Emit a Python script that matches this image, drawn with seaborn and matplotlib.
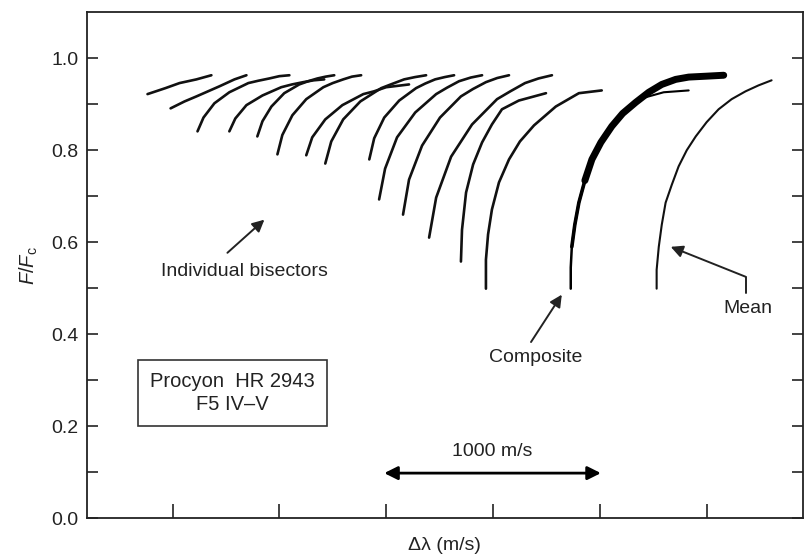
import matplotlib
matplotlib.use("Agg")
import matplotlib.pyplot as plt
import seaborn as sns

# individual bisectors: velocity offset (m/s) vs relative flux F/Fc
bisector_x = [
    [-117, -33, 33, 112, 182],
    [-9, 56, 112, 220, 290, 346],
    [117, 145, 196, 266, 355, 401, 453, 500, 547],
    [266, 294, 346, 421, 509, 559, 612, 661, 710],
    [397, 421, 463, 523, 593, 635, 678, 717, 757],
    [491, 514, 561, 626, 706, 750, 799, 840, 883],
    [626, 654, 715, 795, 893, 943, 1000, 1054, 1107],
    [715, 743, 799, 879, 977, 1027, 1084, 1135, 1187],
    [921, 944, 991, 1061, 1140, 1183, 1229, 1274, 1318],
    [967, 995, 1051, 1136, 1234, 1285, 1341, 1396, 1449],
    [1079, 1107, 1168, 1252, 1350, 1406, 1467, 1520, 1575],
    [1201, 1234, 1304, 1402, 1519, 1581, 1650, 1713, 1776],
    [1350, 1355, 1374, 1407, 1449, 1495, 1542, 1621, 1748],
    [1467, 1467, 1477, 1495, 1528, 1575, 1626, 1692, 1794, 1902, 2009],
]
bisector_f = [
    [0.922, 0.935, 0.946, 0.954, 0.963],
    [0.891, 0.906, 0.917, 0.939, 0.954, 0.963],
    [0.841, 0.871, 0.902, 0.926, 0.946, 0.951, 0.956, 0.961, 0.963],
    [0.841, 0.869, 0.898, 0.919, 0.937, 0.943, 0.948, 0.952, 0.954],
    [0.830, 0.863, 0.895, 0.924, 0.943, 0.950, 0.956, 0.960, 0.963],
    [0.791, 0.833, 0.876, 0.911, 0.937, 0.946, 0.954, 0.960, 0.963],
    [0.789, 0.828, 0.867, 0.898, 0.922, 0.928, 0.937, 0.940, 0.943],
    [0.771, 0.819, 0.867, 0.906, 0.935, 0.944, 0.954, 0.959, 0.963],
    [0.780, 0.826, 0.871, 0.908, 0.935, 0.945, 0.954, 0.959, 0.963],
    [0.693, 0.760, 0.828, 0.882, 0.922, 0.936, 0.950, 0.958, 0.963],
    [0.660, 0.736, 0.810, 0.871, 0.917, 0.933, 0.948, 0.957, 0.963],
    [0.610, 0.697, 0.786, 0.856, 0.911, 0.928, 0.946, 0.956, 0.963],
    [0.558, 0.627, 0.708, 0.769, 0.817, 0.856, 0.889, 0.908, 0.924],
    [0.499, 0.562, 0.617, 0.671, 0.730, 0.780, 0.819, 0.854, 0.895, 0.924, 0.930],
]

composite_x = [1864, 1864, 1869, 1883, 1902, 1930, 1963, 2005, 2056,
               2107, 2168, 2229, 2290, 2355, 2416, 2500, 2580]
composite_f = [0.499, 0.545, 0.590, 0.638, 0.686, 0.734, 0.780, 0.817, 0.852,
               0.880, 0.904, 0.926, 0.943, 0.954, 0.959, 0.961, 0.963]
branch_x = [2182, 2299, 2416]
branch_f = [0.911, 0.926, 0.930]

mean_x = [2266, 2266, 2276, 2290, 2308, 2337, 2369, 2407, 2449, 2500,
          2556, 2617, 2682, 2743, 2804]
mean_f = [0.499, 0.540, 0.590, 0.638, 0.686, 0.725, 0.765, 0.800, 0.830, 0.861,
          0.889, 0.911, 0.928, 0.941, 0.952]

y_ticks = [0.0, 0.2, 0.4, 0.6, 0.8, 1.0]
x_ticks = [0, 500, 1000, 1500, 2000, 2500]

sns.set_style("ticks")
plt.rcParams["font.family"] = ["Liberation Sans", "DejaVu Sans"]
plt.rcParams["mathtext.fontset"] = "custom"
plt.rcParams["mathtext.it"] = "Liberation Sans:italic"
plt.rcParams["mathtext.rm"] = "Liberation Sans"

fig = plt.figure(figsize=(8.06, 5.56), dpi=100)
ax = fig.add_axes([0.108, 0.068, 0.888, 0.910])

for xs, fs in zip(bisector_x, bisector_f):
    sns.lineplot(x=xs, y=fs, ax=ax, color="#111111", linewidth=1.9,
                 sort=False, estimator=None, solid_capstyle="round",
                 solid_joinstyle="round")

sns.lineplot(x=composite_x, y=composite_f, ax=ax, color="black",
             linewidth=1.8, sort=False, estimator=None)
sns.lineplot(x=composite_x[2:], y=composite_f[2:], ax=ax, color="black",
             linewidth=2.6, sort=False, estimator=None, solid_joinstyle="round")
sns.lineplot(x=composite_x[5:], y=composite_f[5:], ax=ax, color="black",
             linewidth=5, sort=False, estimator=None, solid_joinstyle="round")
sns.lineplot(x=branch_x, y=branch_f, ax=ax, color="black", linewidth=1.5,
             sort=False, estimator=None)

sns.lineplot(x=mean_x, y=mean_f, ax=ax, color="#111111", linewidth=1.5,
             sort=False, estimator=None, solid_joinstyle="round")

ax.set_xlim(-400, 2950)
ax.set_ylim(0, 1.1)
ax.set_xticks(x_ticks)
ax.set_xticklabels([])
ax.set_yticks(y_ticks)
ax.set_yticklabels([f"{v:.1f}" for v in y_ticks])
ax.set_yticks([0.1, 0.3, 0.5, 0.7, 0.9], minor=True)
ax.tick_params(axis="both", which="both", direction="in", labelsize=14,
               color="#222222", width=1.2, labelcolor="#222222")
ax.tick_params(axis="y", which="both", length=8, pad=6, right=True)
ax.tick_params(axis="x", length=10)
for side in ax.spines.values():
    side.set_linewidth(1.3)
    side.set_color("#222222")

ax.set_xlabel("Δλ (m/s)", fontsize=14, labelpad=10, color="#222222")
ax.set_ylabel(r"$F/F_{\mathrm{c}}$", fontsize=14.5, labelpad=8, color="#222222")

arrow = dict(arrowstyle="-|>", color="#222222", lw=1.4, mutation_scale=18,
             shrinkA=0, shrinkB=0)
ax.annotate("", xy=(430, 0.649), xytext=(257, 0.577), arrowprops=arrow)
ax.text(336, 0.536, "Individual bisectors", fontsize=14, ha="center",
        va="center", color="#222222")

ax.annotate("", xy=(1822, 0.486), xytext=(1678, 0.383), arrowprops=arrow)
ax.text(1701, 0.349, "Composite", fontsize=14, ha="center", va="center",
        color="#222222")

ax.plot([2682, 2682], [0.49, 0.525], color="#222222", lw=1.4)
ax.annotate("", xy=(2332, 0.590), xytext=(2682, 0.525), arrowprops=arrow)
ax.text(2691, 0.455, "Mean", fontsize=14, ha="center", va="center",
        color="#222222")

ax.annotate("", xy=(2005, 0.098), xytext=(991, 0.098),
            arrowprops=dict(arrowstyle="<|-|>", color="black", lw=2,
                            mutation_scale=20, shrinkA=0, shrinkB=0))
ax.text(1495, 0.144, "1000 m/s", fontsize=14, ha="center", va="center",
        color="#222222")

ax.text(280, 0.272, "Procyon  HR 2943\nF5 IV\u2013V", fontsize=14.5,
        ha="center", va="center", linespacing=1.25, color="#222222",
        bbox=dict(boxstyle="square,pad=0.6", fc="white", ec="#333333", lw=1.2))

fig.savefig("out.png", dpi=100)
